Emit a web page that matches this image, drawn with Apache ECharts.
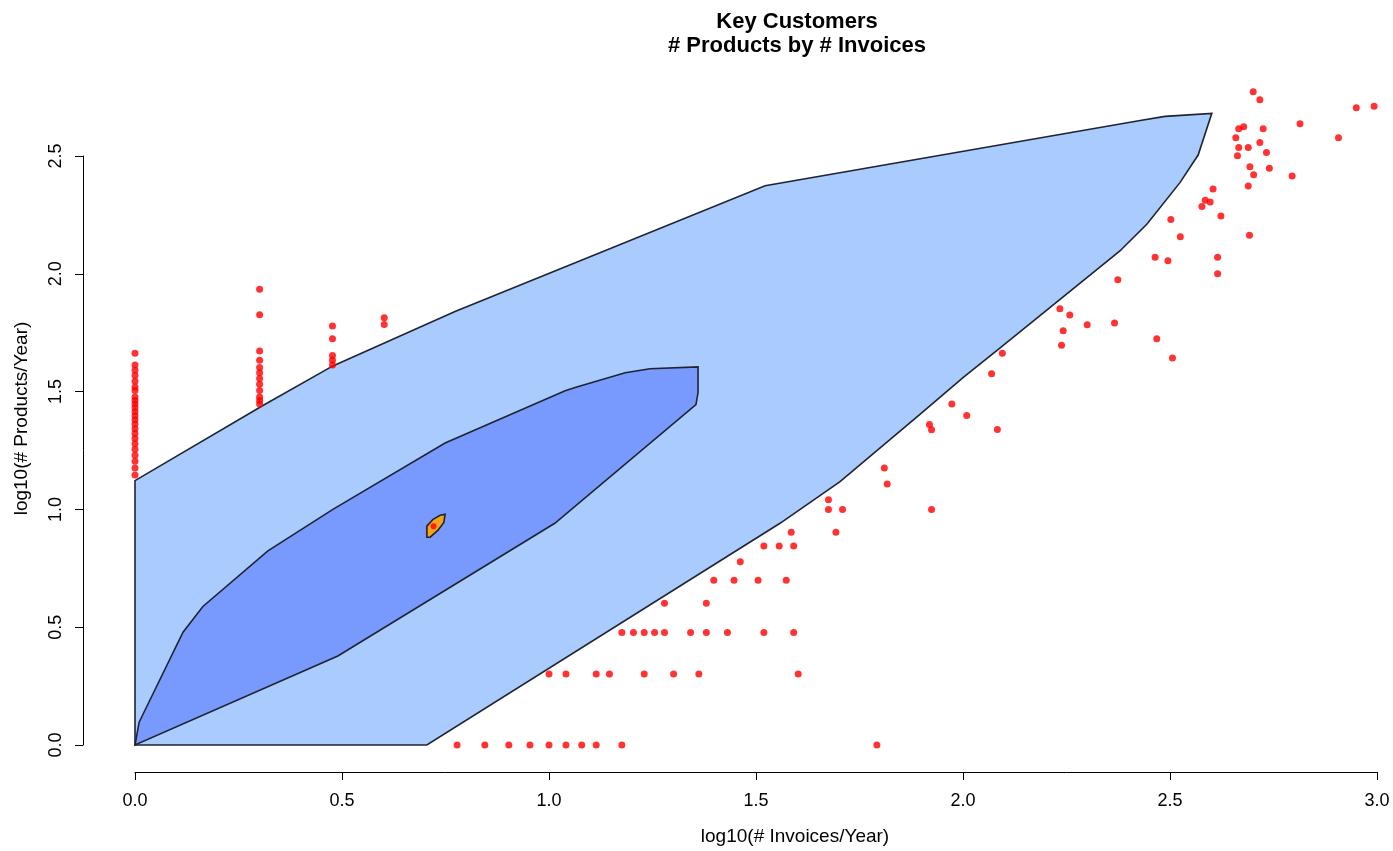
<!DOCTYPE html>
<html>
<head>
<meta charset="utf-8">
<script src="https://cdn.jsdelivr.net/npm/echarts@6/dist/echarts.min.js"></script>
<style>
html,body{margin:0;padding:0;background:#fff;overflow:hidden;}
#chart{width:1393px;height:851px;}
</style>
</head>
<body>
<div id="chart"></div>
<script>
// ---- Data (log10 scale values) ----
const titleText = 'Key Customers\n# Products by # Invoices';
const xAxisName = 'log10(# Invoices/Year)';
const yAxisName = 'log10(# Products/Year)';

// Outer density contour (light blue)
const outerContourX = [0, 0, 0.309, 0.478, 0.773, 1.522, 2.428, 2.488, 2.601, 2.568, 2.524, 2.444, 2.379, 2.089, 2.0, 1.896, 1.703, 1.558, 0.705, 0];
const outerContourY = [0, 1.122, 1.441, 1.609, 1.840, 2.374, 2.651, 2.668, 2.681, 2.504, 2.387, 2.210, 2.097, 1.685, 1.559, 1.403, 1.118, 0.941, 0, 0];

// Inner density contour (medium blue)
const innerContourX = [0, 0.010, 0.017, 0.116, 0.164, 0.321, 0.478, 0.749, 1.039, 1.063, 1.184, 1.244, 1.360, 1.360, 1.355, 1.014, 0.490, 0];
const innerContourY = [0, 0.097, 0.122, 0.479, 0.588, 0.824, 1.0, 1.282, 1.504, 1.517, 1.580, 1.597, 1.605, 1.496, 1.445, 0.941, 0.378, 0];

// Core density contour (orange)
const coreContourX = [0.705, 0.705, 0.720, 0.737, 0.749, 0.746, 0.732, 0.713];
const coreContourY = [0.882, 0.929, 0.958, 0.975, 0.979, 0.945, 0.912, 0.882];

// Mode marker
const modeX = [0.721];
const modeY = [0.929];

// Customers: log10(invoices/year)
const customerX = [
  0,0,0,0,0,0,0,0,0,0,0,0,0,0,0,0,0,0,0,0,0,0,0,0,
  0.301,0.301,0.301,0.301,0.301,0.301,0.301,0.301,0.301,0.301,0.301,0.301,
  0.477,0.477,0.477,0.477,0.477,
  0.602,0.602,
  0.778,0.845,0.903,0.954,1.0,1.041,1.079,1.114,1.176,1.792,
  1.0,1.041,1.114,1.146,1.230,1.301,1.362,1.602,
  1.176,1.204,1.230,1.255,1.279,1.342,1.380,1.431,1.519,1.591,
  1.279,1.380,
  1.398,1.447,1.505,1.573,
  1.462,
  1.519,1.556,1.591,
  1.585,1.693,
  1.675,1.709,1.924,1.675,1.817,1.810,1.919,1.924,2.083,2.009,1.973,2.069,2.095,
  2.701,2.717,2.950,2.993,2.814,2.666,2.678,2.725,2.659,2.907,2.717,2.666,2.689,2.733,2.663,
  2.693,2.740,2.702,2.795,2.689,2.604,2.585,2.597,2.577,2.623,2.502,2.525,2.692,2.464,2.495,
  2.615,2.615,2.374,2.234,2.258,2.300,2.366,2.242,2.238,2.468,2.506
];
// Customers: log10(products/year)
const customerY = [
  1.663,1.613,1.591,1.568,1.544,1.519,1.505,1.477,1.462,1.447,1.431,1.415,1.398,1.380,1.362,1.342,1.322,1.301,1.279,1.255,1.230,1.204,1.176,1.146,
  1.934,1.826,1.672,1.633,1.602,1.580,1.556,1.531,1.505,1.477,1.462,1.447,
  1.778,1.724,1.653,1.633,1.613,
  1.813,1.785,
  0,0,0,0,0,0,0,0,0,0,
  0.301,0.301,0.301,0.301,0.301,0.301,0.301,0.301,
  0.477,0.477,0.477,0.477,0.477,0.477,0.477,0.477,0.477,0.477,
  0.602,0.602,
  0.699,0.699,0.699,0.699,
  0.778,
  0.845,0.845,0.845,
  0.903,0.903,
  1.0,1.0,1.0,1.041,1.108,1.176,1.360,1.338,1.339,1.399,1.447,1.576,1.663,
  2.773,2.739,2.705,2.711,2.637,2.616,2.624,2.616,2.577,2.577,2.557,2.536,2.536,2.515,2.501,
  2.454,2.448,2.420,2.415,2.373,2.360,2.312,2.305,2.286,2.245,2.231,2.157,2.164,2.070,2.055,
  2.070,2.0,1.975,1.852,1.825,1.784,1.791,1.758,1.697,1.724,1.643
];

const zip = (xs, ys) => xs.map((x, i) => [x, ys[i]]);

function polygonSeries(xs, ys, fill, z) {
  const pts = zip(xs, ys);
  return {
    type: 'custom',
    z: z,
    silent: true,
    clip: false,
    data: [pts[0]],
    encode: { x: 0, y: 1 },
    renderItem: function (params, api) {
      const coords = pts.map(p => api.coord(p));
      return {
        type: 'polygon',
        shape: { points: coords },
        style: { fill: fill, stroke: '#1f2430', lineWidth: 1.6 }
      };
    }
  };
}

const chart = echarts.init(document.getElementById('chart'), null, { renderer: 'canvas', width: 1393, height: 851 });
const fontFamily = '"Liberation Sans", Arial, Helvetica, sans-serif';

chart.setOption({
  backgroundColor: '#ffffff',
  animation: false,
  textStyle: { fontFamily: fontFamily },
  title: {
    text: titleText,
    left: 792,
    top: 5,
    textAlign: 'center',
    textStyle: { fontFamily: fontFamily, fontSize: 22, fontWeight: 'bold', color: '#000', lineHeight: 24 }
  },
  grid: { left: 135, width: 1242, top: 156, height: 595, containLabel: false },
  xAxis: {
    type: 'value',
    min: 0, max: 3, interval: 0.5,
    offset: 27,
    name: xAxisName,
    nameLocation: 'middle',
    nameGap: 55,
    nameTextStyle: { fontFamily: fontFamily, fontSize: 19, color: '#000', padding: [0, 0, 0, 78] },
    axisLine: { show: true, onZero: false, lineStyle: { color: '#000', width: 1 } },
    axisTick: { show: true, length: 8, lineStyle: { color: '#000' } },
    axisLabel: { margin: 20, fontSize: 18, color: '#000', fontFamily: fontFamily,
      formatter: v => v.toFixed(1) },
    splitLine: { show: false }
  },
  yAxis: {
    type: 'value',
    min: 0, max: 2.5, interval: 0.5,
    offset: 52,
    name: yAxisName,
    nameLocation: 'middle',
    nameGap: 52,
    nameRotate: 90,
    nameTextStyle: { fontFamily: fontFamily, fontSize: 19, color: '#000', padding: [0, 0, 0, 64] },
    axisLine: { show: true, onZero: false, lineStyle: { color: '#000', width: 1 } },
    axisTick: { show: true, length: 8, lineStyle: { color: '#000' } },
    axisLabel: { margin: 18, rotate: 90, fontSize: 18, color: '#000', fontFamily: fontFamily,
      formatter: v => v.toFixed(1) },
    splitLine: { show: false }
  },
  series: [
    polygonSeries(outerContourX, outerContourY, '#A9CBFE', 1),
    polygonSeries(innerContourX, innerContourY, '#7899FE', 2),
    polygonSeries(coreContourX, coreContourY, '#F7A21B', 3),
    {
      type: 'scatter',
      z: 5,
      clip: false,
      symbol: 'circle',
      symbolSize: 7,
      itemStyle: { color: '#FF0000' },
      data: zip(customerX, customerY)
    },
    {
      type: 'scatter',
      z: 6,
      clip: false,
      symbol: 'circle',
      symbolSize: 6,
      itemStyle: { color: '#FF0000' },
      data: zip(modeX, modeY)
    }
  ]
});
</script>
</body>
</html>
